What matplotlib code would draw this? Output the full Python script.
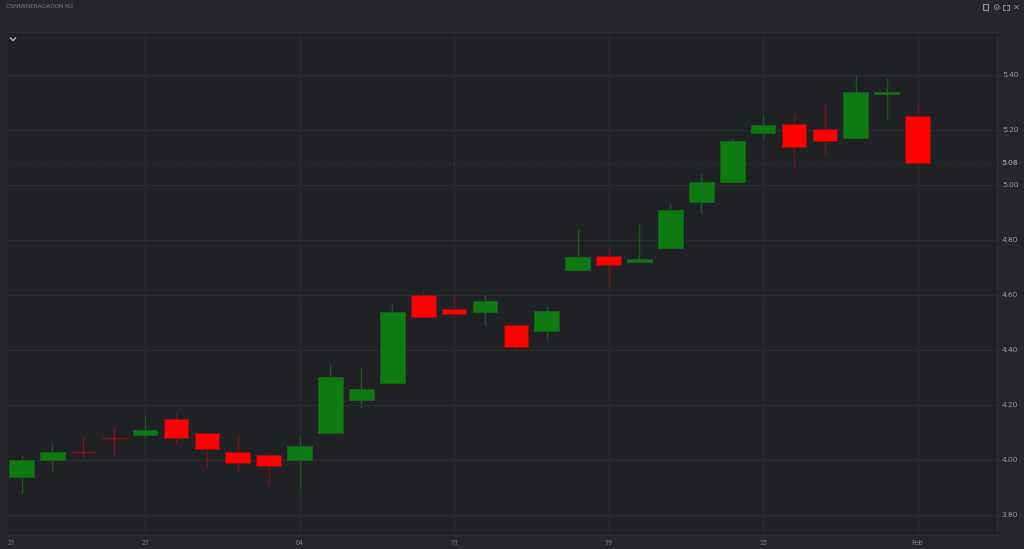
import matplotlib
matplotlib.use('Agg')
import matplotlib.pyplot as plt
from matplotlib.lines import Line2D
from matplotlib.patches import Rectangle

title='CSNMINERACAOON N2'
opens=[3.94,4.00,4.03,4.08,4.09,4.15,4.10,4.03,4.02,4.00,4.10,4.22,4.28,4.60,4.55,4.54,4.49,4.47,4.69,4.74,4.72,4.77,4.94,5.01,5.19,5.22,5.205,5.17,5.33,5.25]
closes=[4.00,4.03,4.03,4.08,4.11,4.08,4.04,3.99,3.98,4.05,4.30,4.26,4.54,4.52,4.53,4.58,4.41,4.54,4.74,4.71,4.73,4.91,5.01,5.16,5.22,5.14,5.16,5.34,5.34,5.08]
highs=[4.02,4.06,4.08,4.12,4.16,4.17,4.10,4.09,4.03,4.08,4.35,4.34,4.57,4.62,4.60,4.60,4.49,4.56,4.84,4.77,4.86,4.93,5.04,5.17,5.26,5.26,5.30,5.40,5.39,5.30]
lows=[3.88,3.96,4.01,4.02,4.08,4.06,3.97,3.96,3.91,3.90,4.10,4.19,4.28,4.52,4.52,4.49,4.40,4.44,4.69,4.64,4.72,4.77,4.90,5.01,5.17,5.06,5.11,5.17,5.24,5.07]
doji_red=[2,3]
price_ticks=[3.80,4.00,4.20,4.40,4.60,4.80,5.00,5.20,5.40]
last_price=5.08
date_pos=[4,9,14,19,24,29]
date_labels=['27','04','11','19','25','Feb']

W,H=1024,549
GRID='#2a2b2e'
plt.rcParams['font.family']=['Roboto','DejaVu Sans']
fig=plt.figure(figsize=(W/100,H/100),dpi=100,facecolor='#25262a')

# plot panel, pixel box 6..997 x 32..535
ax=fig.add_axes([6/W,1-535/H,991/W,503/H],facecolor='#202124')
ax.set_xlim(-15.5/30.9,(997-21.5)/30.9)
ax.set_ylim(5.40-(535-75)/275,5.40+(75-32)/275)
for s in ax.spines.values():
    s.set_color('#2b2c30')
    s.set_linewidth(1)
ax.tick_params(left=False,bottom=False,labelleft=False,labelbottom=False)

for p in price_ticks:
    ax.axhline(p,color=GRID,lw=1,zorder=1)
    ax.text(1.005,p,'%.2f'%p,transform=ax.get_yaxis_transform(),color='#8e9097',fontsize=6,va='center',ha='left')
for d,l in zip(date_pos,date_labels):
    ax.axvline(d,color=GRID,lw=1,zorder=1)
    ax.text(d,-0.009,l,transform=ax.get_xaxis_transform(),color='#7b7d84',fontsize=5,va='top',ha='center')
ax.text(-0.31,-0.009,'21',transform=ax.get_xaxis_transform(),color='#7b7d84',fontsize=5,va='top',ha='center')

ax.axhline(last_price,color='#303135',lw=0.7,ls=(0,(2,3)),zorder=1)
ax.text(1.005,last_price,'%.2f'%last_price,transform=ax.get_yaxis_transform(),color='#96989e',fontsize=6,fontweight='medium',va='center',ha='left')

for i in range(len(opens)):
    up=closes[i]>=opens[i] and i not in doji_red
    body='#0e7a12' if up else '#ff0000'
    edge='#17601a' if up else '#8e1015'
    wick='#1b5a1e' if up else '#701418'
    lo=min(opens[i],closes[i])
    ht=abs(closes[i]-opens[i])
    if ht==0:
        ax.vlines(i,lows[i],highs[i],color=edge,lw=1,zorder=2)
        ax.hlines(opens[i],i-0.4,i+0.4,color=edge,lw=1,zorder=3)
    else:
        ax.vlines(i,lows[i],highs[i],color=wick,lw=1,zorder=2)
        ax.add_patch(Rectangle((i-0.4,lo),0.8,ht,facecolor=body,edgecolor=edge,lw=0.7,zorder=3))

# header text and window buttons
fig.text(6/W,1-7/H,title,color='#74767d',fontsize=4.6,va='center',ha='left')
icon='#8f929a'
def px_line(xs,ys,color=icon,lw=0.9):
    fig.add_artist(Line2D([x/W for x in xs],[1-y/H for y in ys],color=color,lw=lw))
px_line([10.5,13,15.5],[38,40.5,38],color='#b5b7bc',lw=1)
fig.add_artist(Rectangle((982.5/W,1-10/H),5/W,6/H,transform=fig.transFigure,facecolor='none',edgecolor=icon,lw=0.9))
fig.text(995.5/W,1-7.5/H,'\u2699',color=icon,fontsize=6,va='center',ha='center',family='DejaVu Sans')
for cx,cy in [(1003,4.5),(1009,4.5),(1003,10),(1009,10)]:
    dx=2 if cx<1006 else -2
    dy=2 if cy<7 else -2
    px_line([cx+dx,cx,cx],[cy,cy,cy+dy],lw=0.7)
fig.text(1016/W,1-7/H,'\u2715',color=icon,fontsize=6,va='center',ha='center',family='DejaVu Sans')

fig.savefig('out.png',dpi=100,facecolor=fig.get_facecolor())
